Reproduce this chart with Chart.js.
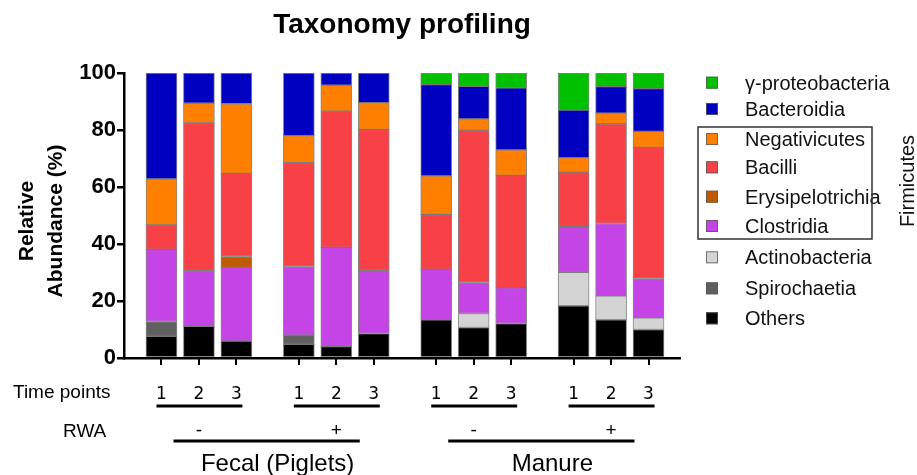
<!DOCTYPE html>
<html>
<head>
<meta charset="utf-8">
<script src="https://cdn.jsdelivr.net/npm/chart.js@4.4.1/dist/chart.umd.min.js"></script>
<style>
  html, body { margin: 0; padding: 0; background: #fff; }
  canvas { display: block; }
</style>
</head>
<body>
<canvas id="c" width="917" height="475"></canvas>
<script>
// ---------- data ----------
const sources = ['Fecal (Piglets)', 'Manure'];
const rwaLabels = ['-', '+'];
const timePoints = ['1', '2', '3'];

const others           = [7.6, 11.1, 5.9, 4.8, 4.0, 8.6, 13.4, 10.7, 12.1, 18.3, 13.4, 10.0];
const spirochaetia     = [5.2, 0, 0, 3.2, 0, 0, 0, 0, 0, 0, 0, 0];
const actinobacteria   = [0, 0, 0, 0, 0, 0, 0, 4.9, 0, 11.8, 8.4, 4.1];
const clostridia       = [25.3, 19.5, 25.9, 24.1, 34.8, 22.2, 17.7, 10.9, 12.6, 16.1, 25.4, 13.8];
const erysipelotrichia = [0, 0, 3.8, 0, 0, 0, 0, 0, 0, 0, 0, 0];
const bacilli          = [8.6, 51.9, 29.2, 36.4, 47.8, 49.4, 19.2, 53.5, 39.4, 19.0, 35.0, 46.0];
const negativicutes    = [16.1, 6.9, 24.4, 9.5, 9.1, 9.4, 13.6, 3.9, 8.9, 5.1, 3.7, 5.6];
const bacteroidia      = [37.2, 10.6, 10.8, 22.0, 4.3, 10.4, 32.0, 11.4, 21.8, 16.7, 9.3, 15.0];
const gammaProteo      = [0, 0, 0, 0, 0, 0, 4.1, 4.7, 5.2, 13.0, 4.8, 5.5];

const yTicks = [0, 20, 40, 60, 80, 100];

// ---------- layout helpers ----------
const GROUP_GAP = 2 / 3;                 // extra space between groups of 3 bars (in bar slots)
const nPerGroup = timePoints.length;
const nGroups = sources.length * rwaLabels.length;
const barPos = [];
for (let g = 0; g < nGroups; g++) for (let i = 0; i < nPerGroup; i++) barPos.push(g * (nPerGroup + GROUP_GAP) + i);

const series = [
  { label: 'Others', data: others, color: '#000000' },
  { label: 'Spirochaetia', data: spirochaetia, color: '#606060' },
  { label: 'Actinobacteria', data: actinobacteria, color: '#D4D4D4' },
  { label: 'Clostridia', data: clostridia, color: '#C444E6' },
  { label: 'Erysipelotrichia', data: erysipelotrichia, color: '#C05A00' },
  { label: 'Bacilli', data: bacilli, color: '#F84147' },
  { label: 'Negativicutes', data: negativicutes, color: '#FF8000' },
  { label: 'Bacteroidia', data: bacteroidia, color: '#0000C0' },
  { label: 'γ-proteobacteria', data: gammaProteo, color: '#00C000' }
];

const datasets = series.map(s => ({
  label: s.label,
  data: s.data.map((v, k) => ({ x: barPos[k], y: v })),
  backgroundColor: s.color,
  borderColor: 'rgba(95,95,95,0.75)',
  borderWidth: 1,
  borderSkipped: false,
  barThickness: 31
}));

const SANS = '"Liberation Sans", Arial, sans-serif';

const decor = {
  id: 'decor',
  afterDraw(chart) {
    const ctx = chart.ctx;
    const xs = chart.scales.x;
    const ca = chart.chartArea;
    const px = k => xs.getPixelForValue(barPos[k]);
    ctx.save();

    // title
    ctx.fillStyle = '#000';
    ctx.font = 'bold 28px ' + SANS;
    ctx.textAlign = 'center';
    ctx.textBaseline = 'alphabetic';
    ctx.fillText('Taxonomy profiling', 402, 33);

    // y title
    ctx.save();
    ctx.translate(0, 221);
    ctx.rotate(-Math.PI / 2);
    ctx.font = 'bold 21px ' + SANS;
    ctx.textBaseline = 'middle';
    ctx.textAlign = 'center';
    ctx.fillText('Relative', 0, 27);
    ctx.fillText('Abundance (%)', 0, 56);
    ctx.restore();

    // x tick marks
    ctx.strokeStyle = '#000';
    ctx.lineWidth = 2;
    for (let k = 0; k < barPos.length; k++) {
      const x = Math.round(px(k));
      ctx.beginPath();
      ctx.moveTo(x, ca.bottom);
      ctx.lineTo(x, ca.bottom + 7);
      ctx.stroke();
    }

    // time points row
    ctx.textAlign = 'left';
    ctx.font = '19px ' + SANS;
    ctx.fillText('Time points', 13, 398);
    ctx.textAlign = 'center';
    ctx.font = '17px "DejaVu Sans", ' + SANS;
    for (let k = 0; k < barPos.length; k++) {
      ctx.fillText(timePoints[k % nPerGroup], px(k), 399);
    }
    ctx.lineWidth = 3;
    for (let g = 0; g < nGroups; g++) {
      const a = px(g * nPerGroup) - 5, b = px(g * nPerGroup + nPerGroup - 1) + 6;
      ctx.beginPath(); ctx.moveTo(a, 406); ctx.lineTo(b, 406); ctx.stroke();
    }

    // RWA row
    ctx.font = '19px ' + SANS;
    ctx.textAlign = 'left';
    ctx.fillText('RWA', 63, 437);
    ctx.textAlign = 'center';
    for (let g = 0; g < nGroups; g++) {
      ctx.fillText(rwaLabels[g % rwaLabels.length], px(g * nPerGroup + 1), 436);
    }
    const perSource = nPerGroup * rwaLabels.length;
    for (let s = 0; s < sources.length; s++) {
      const a = px(s * perSource) + 12, b = px(s * perSource + perSource - 1) - 14;
      ctx.beginPath(); ctx.moveTo(a, 441); ctx.lineTo(b, 441); ctx.stroke();
      ctx.font = '24px ' + SANS;
      ctx.fillText(sources[s], (px(s * perSource) + px(s * perSource + perSource - 1)) / 2 + 10, 471);
    }

    // legend (top to bottom, reverse of stack order)
    const rows = [82.7, 109, 139, 167.3, 196.7, 226, 257.3, 288.3, 318.3];
    const legendItems = series.slice().reverse();
    ctx.font = '20px ' + SANS;
    ctx.textAlign = 'left';
    ctx.textBaseline = 'alphabetic';
    legendItems.forEach((s, i) => {
      const y = rows[i];
      ctx.fillStyle = s.color;
      ctx.fillRect(706, y - 6, 12, 12);
      ctx.strokeStyle = 'rgba(90,90,90,0.8)';
      ctx.lineWidth = 1;
      ctx.strokeRect(706.5, y - 5.5, 11, 11);
      ctx.fillStyle = '#111';
      ctx.fillText(s.label, 745, y + 7);
    });
    // Firmicutes box
    ctx.strokeStyle = '#333';
    ctx.lineWidth = 1.5;
    ctx.strokeRect(698, 127, 174, 112);
    ctx.save();
    ctx.translate(908, 181);
    ctx.rotate(-Math.PI / 2);
    ctx.fillStyle = '#111';
    ctx.font = '20px ' + SANS;
    ctx.textAlign = 'center';
    ctx.textBaseline = 'middle';
    ctx.fillText('Firmicutes', 0, 0);
    ctx.restore();

    ctx.restore();
  }
};

new Chart(document.getElementById('c'), {
  type: 'bar',
  data: { datasets },
  options: {
    responsive: false,
    animation: false,
    devicePixelRatio: 1,
    layout: { padding: { top: 73, right: 237, bottom: 117, left: 0 } },
    plugins: { legend: { display: false }, title: { display: false }, tooltip: { enabled: false } },
    scales: {
      x: {
        type: 'linear',
        stacked: true,
        offset: false,
        min: -1,
        max: 13.84,
        ticks: { display: false },
        grid: { display: false, drawTicks: false, offset: false },
        border: { display: true, color: '#000', width: 2.5 },
        afterFit(scale) { scale.height = 0; }
      },
      y: {
        stacked: true,
        min: 0,
        max: 100,
        afterBuildTicks(scale) { scale.ticks = yTicks.map(v => ({ value: v })); },
        ticks: { color: '#000', padding: 1, font: { family: SANS, size: 22, weight: 'bold' } },
        grid: { drawOnChartArea: false, drawTicks: true, tickLength: 7, color: '#000', lineWidth: 2.5 },
        border: { display: true, color: '#000', width: 2.5 },
        afterFit(scale) { scale.width = 124; }
      }
    }
  },
  plugins: [decor]
});
</script>
</body>
</html>
